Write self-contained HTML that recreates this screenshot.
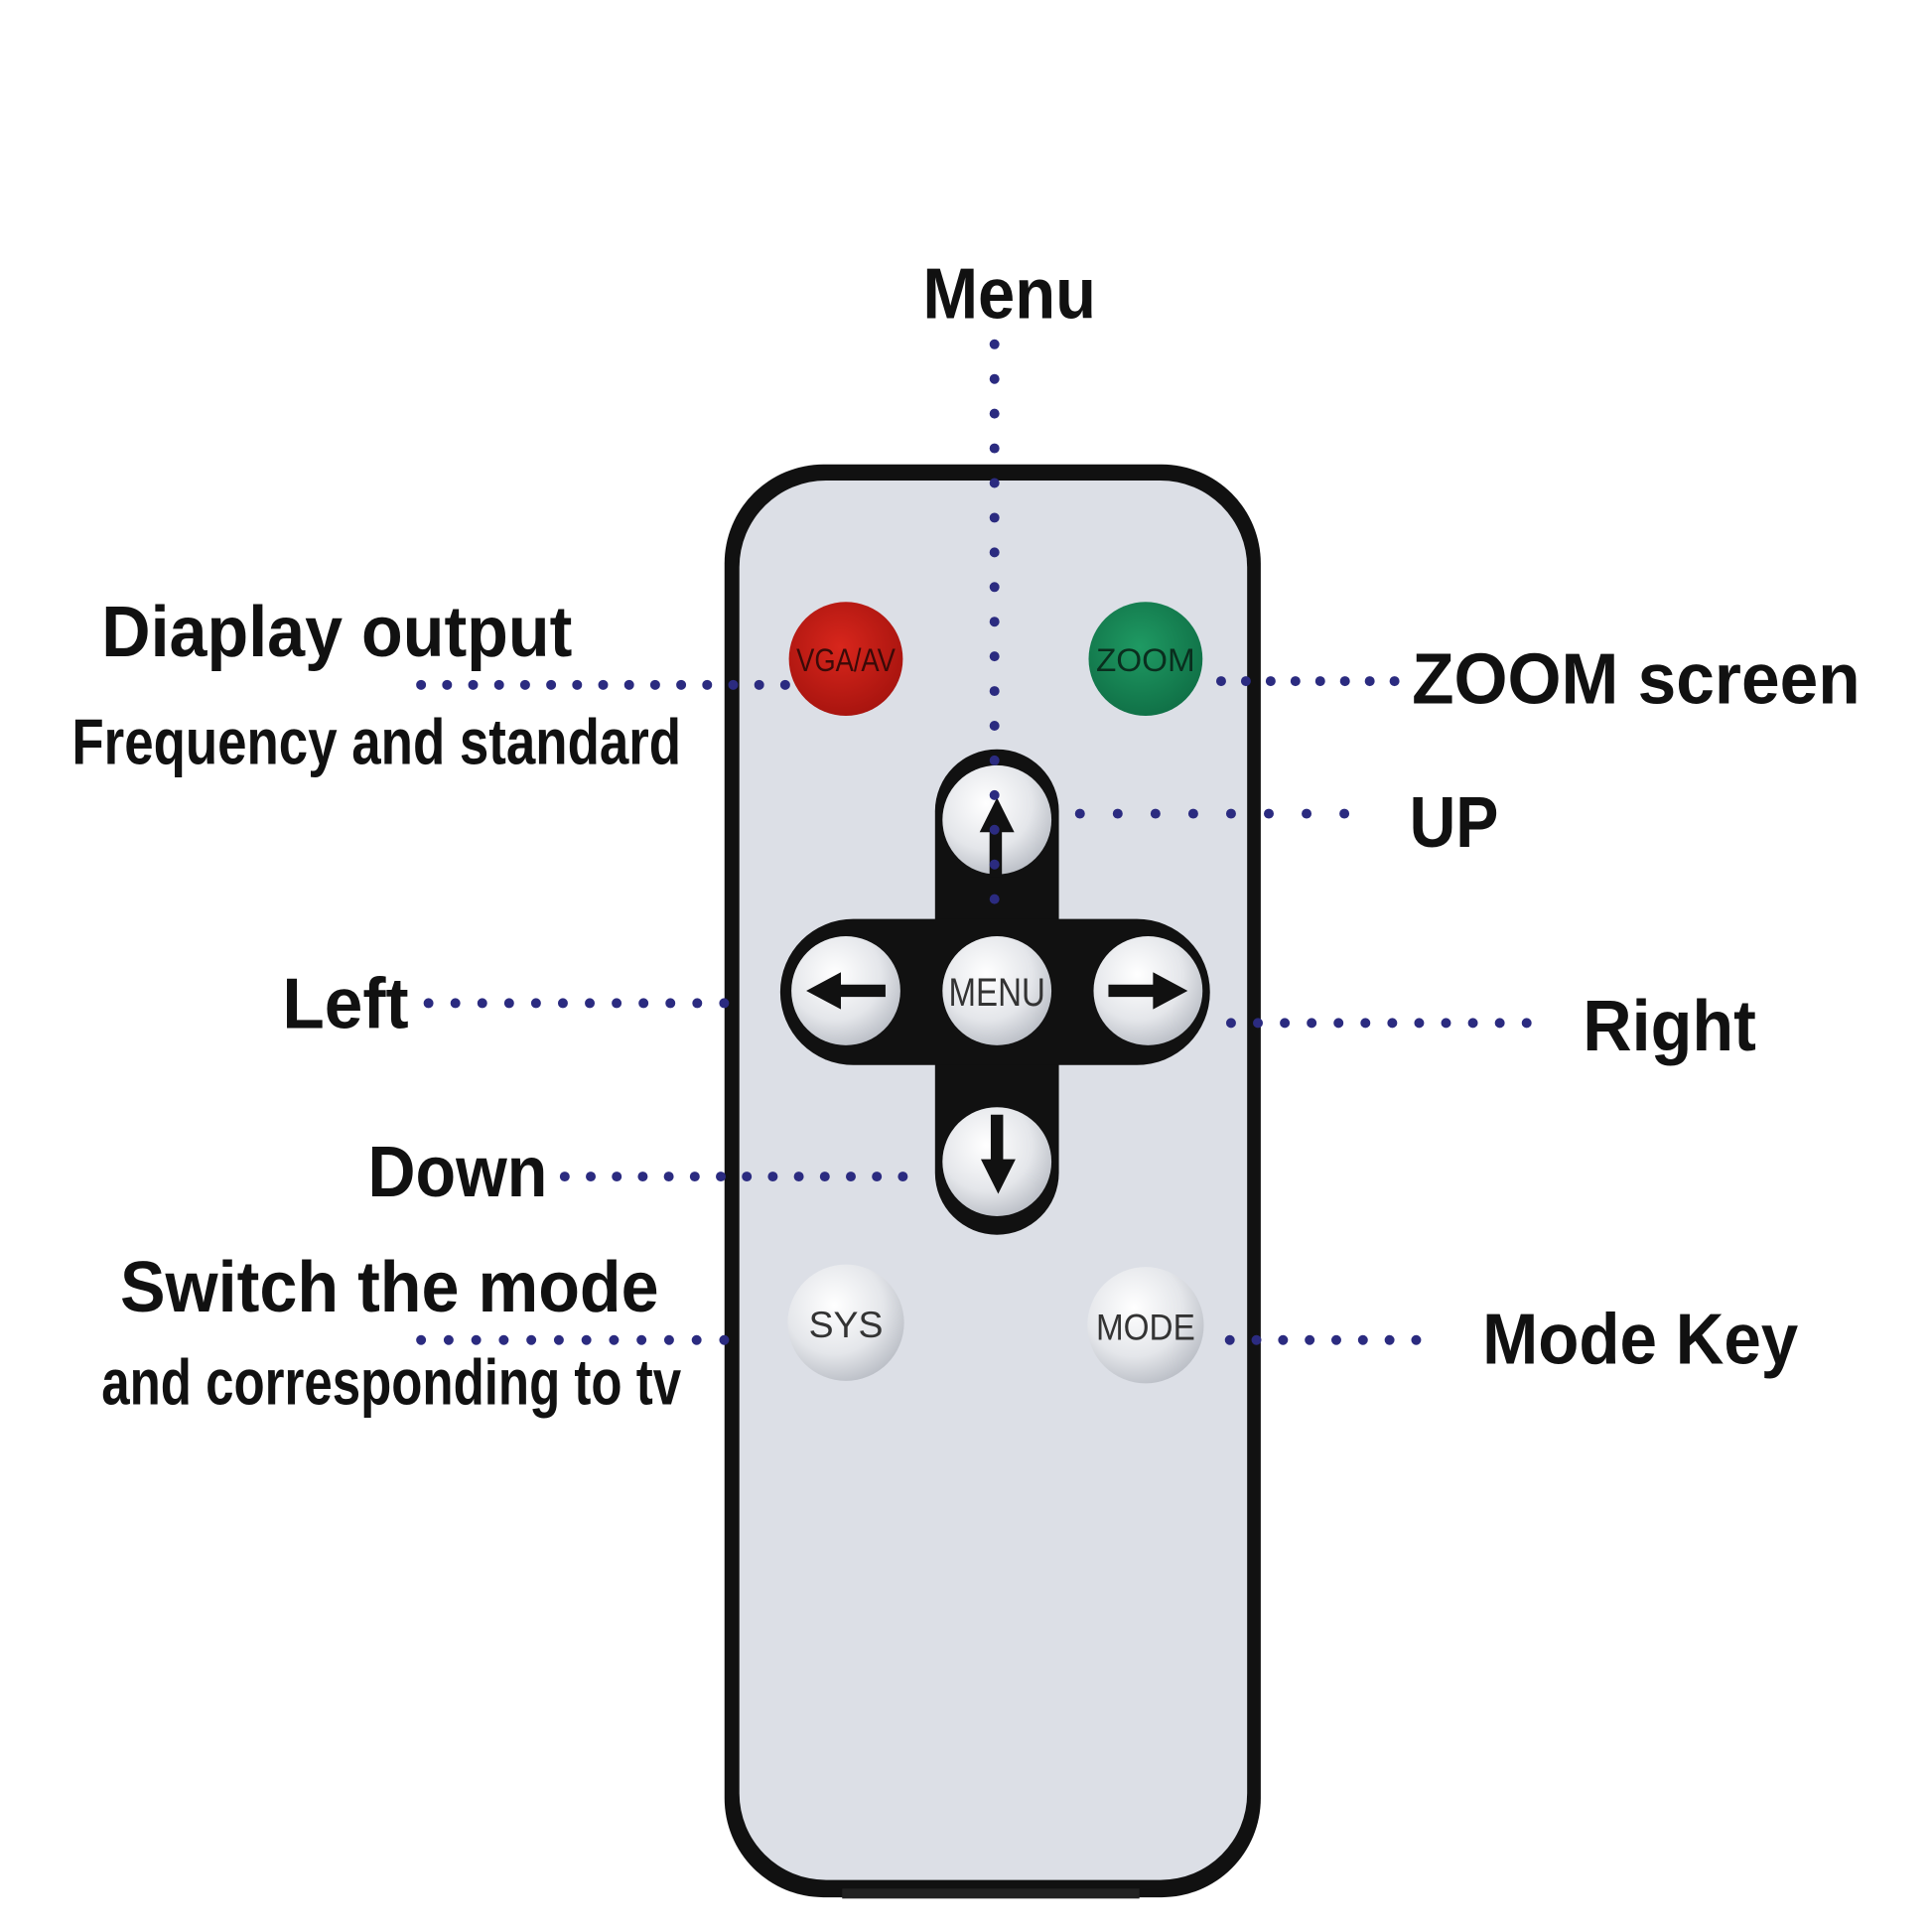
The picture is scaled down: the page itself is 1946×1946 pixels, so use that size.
<!DOCTYPE html>
<html><head><meta charset="utf-8"><style>
html,body{margin:0;padding:0;background:#fff;width:1946px;height:1946px;overflow:hidden}
svg{display:block}
text{font-family:"Liberation Sans",sans-serif;fill:#111}
</style></head><body>
<svg width="1946" height="1946" viewBox="0 0 1560 1560" xmlns="http://www.w3.org/2000/svg">
<defs>
<radialGradient id="wb" cx="40%" cy="35%" r="70%"><stop offset="0" stop-color="#ffffff"/><stop offset="0.6" stop-color="#e4e6ea"/><stop offset="1" stop-color="#b8bcc4"/></radialGradient>
<radialGradient id="rb" cx="45%" cy="40%" r="65%"><stop offset="0" stop-color="#d8261c"/><stop offset="1" stop-color="#a5130e"/></radialGradient>
<radialGradient id="gb" cx="45%" cy="40%" r="65%"><stop offset="0" stop-color="#1f9a63"/><stop offset="1" stop-color="#0f6e45"/></radialGradient>
</defs>
<!-- remote body -->
<rect x="585" y="375" width="433" height="1157" rx="80" fill="#111"/>
<rect x="597" y="388" width="410" height="1130" rx="70" fill="#dcdfe6"/>
<rect x="680" y="1525" width="240" height="8" fill="#222"/>
<!-- top buttons -->
<circle cx="683" cy="532" r="46" fill="url(#rb)"/>
<text x="683" y="542" font-size="26" text-anchor="middle" textLength="80" lengthAdjust="spacingAndGlyphs" style="fill:#3a0a08">VGA/AV</text>
<circle cx="925" cy="532" r="46" fill="url(#gb)"/>
<text x="925" y="542" font-size="26" text-anchor="middle" textLength="80" lengthAdjust="spacingAndGlyphs" style="fill:#0a2e1e">ZOOM</text>
<!-- d-pad -->
<rect x="755" y="605" width="100" height="392" rx="50" fill="#111"/>
<rect x="630" y="742" width="347" height="118" rx="59" fill="#111"/>
<circle cx="805" cy="662" r="44" fill="url(#wb)"/>
<circle cx="683" cy="800" r="44" fill="url(#wb)"/>
<circle cx="805" cy="800" r="44" fill="url(#wb)"/>
<circle cx="927" cy="800" r="44" fill="url(#wb)"/>
<circle cx="805" cy="938" r="44" fill="url(#wb)"/>
<text x="805" y="812" font-size="32" text-anchor="middle" textLength="78" lengthAdjust="spacingAndGlyphs" style="fill:#333">MENU</text>
<!-- arrows -->
<path d="M799 708 h10 v-36 h10 l-14 -28 l-14 28 h8z" fill="#111"/>
<path d="M800 900 h10 v36 h10 l-14 28 l-14 -28 h8z" fill="#111"/>
<path d="M715 795 v10 h-36 v10 l-28 -15 l28 -15 v10z" fill="#111"/>
<path d="M895 795 v10 h36 v10 l28 -15 l-28 -15 v10z" fill="#111"/>
<!-- sys/mode -->
<circle cx="683" cy="1068" r="47" fill="url(#wb)"/>
<text x="683" y="1080" font-size="30" text-anchor="middle" style="fill:#333">SYS</text>
<circle cx="925" cy="1070" r="47" fill="url(#wb)"/>
<text x="925" y="1082" font-size="30" text-anchor="middle" textLength="80" lengthAdjust="spacingAndGlyphs" style="fill:#333">MODE</text>
<!-- dotted lines -->
<g stroke="#2b2b80" stroke-width="8" stroke-linecap="round" fill="none">
<line x1="803" y1="278" x2="803" y2="730" stroke-dasharray="0 28"/>
<line x1="340" y1="553" x2="636" y2="553" stroke-dasharray="0 21"/>
<line x1="986" y1="550" x2="1130" y2="550" stroke-dasharray="0 20"/>
<line x1="872" y1="657" x2="1116" y2="657" stroke-dasharray="0 30.5"/>
<line x1="346" y1="810" x2="606" y2="810" stroke-dasharray="0 21.7"/>
<line x1="994" y1="826" x2="1254" y2="826" stroke-dasharray="0 21.7"/>
<line x1="456" y1="950" x2="750" y2="950" stroke-dasharray="0 21"/>
<line x1="340" y1="1082" x2="607" y2="1082" stroke-dasharray="0 22.25"/>
<line x1="993" y1="1082" x2="1165" y2="1082" stroke-dasharray="0 21.5"/>
</g>
<!-- labels -->
<g font-weight="bold">
<text x="745" y="257" font-size="58" textLength="140" lengthAdjust="spacingAndGlyphs">Menu</text>
<text x="82" y="530" font-size="58" textLength="380" lengthAdjust="spacingAndGlyphs">Diaplay output</text>
<text x="58" y="617" font-size="52" textLength="492" lengthAdjust="spacingAndGlyphs">Frequency and standard</text>
<text x="1140" y="568" font-size="58" textLength="362" lengthAdjust="spacingAndGlyphs">ZOOM screen</text>
<text x="1138" y="684" font-size="58" textLength="72" lengthAdjust="spacingAndGlyphs">UP</text>
<text x="228" y="830" font-size="58" textLength="102" lengthAdjust="spacingAndGlyphs">Left</text>
<text x="1278" y="848" font-size="58" textLength="140" lengthAdjust="spacingAndGlyphs">Right</text>
<text x="297" y="966" font-size="58" textLength="145" lengthAdjust="spacingAndGlyphs">Down</text>
<text x="97" y="1059" font-size="58" textLength="435" lengthAdjust="spacingAndGlyphs">Switch the mode</text>
<text x="82" y="1134" font-size="52" textLength="468" lengthAdjust="spacingAndGlyphs">and corresponding to tv</text>
<text x="1197" y="1101" font-size="58" textLength="255" lengthAdjust="spacingAndGlyphs">Mode Key</text>
</g>
</svg>
</body></html>
